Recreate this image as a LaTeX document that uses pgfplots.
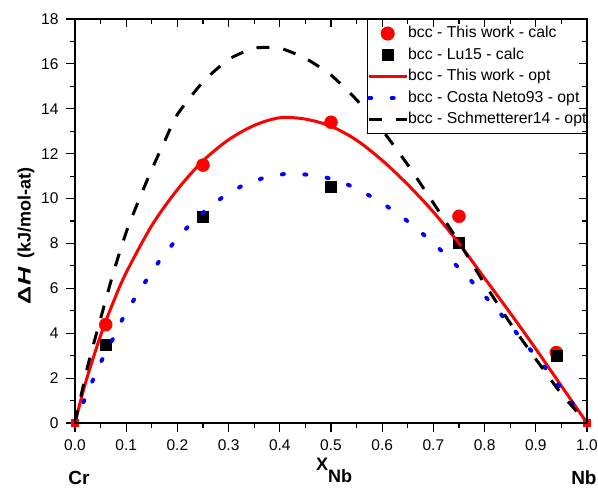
\documentclass[border=0pt]{standalone}
\usepackage{fontspec}
\setmainfont{Liberation Sans}
\usepackage{pgfplots}
\pgfplotsset{compat=1.18}
\begin{document}
\begin{tikzpicture}[font=\fontsize{15.5bp}{18bp}\selectfont]
\pgfplotsset{
  common/.style={
    scale only axis, width=512bp, height=404bp,
    xmin=0, xmax=1, ymin=0, ymax=18,
    xtick={0,0.1,0.2,0.3,0.4,0.5,0.6,0.7,0.8,0.9,1},
    ytick={0,2,4,6,8,10,12,14,16,18},
    minor x tick num=1, minor y tick num=1,
    axis line style={line width=1.6bp},
    every tick/.style={black, line width=1.2bp},
  }
}
\begin{axis}[common, name=ax,
  xtick pos=left, ytick pos=left, tick align=outside,
  major tick length=9bp, minor tick length=5bp,
  /pgf/number format/assume math mode=true,
  xticklabel style={/pgf/number format/fixed, /pgf/number format/fixed zerofill,
    /pgf/number format/precision=1, yshift=-4bp},
  yticklabel style={xshift=-4bp},
  ylabel={\fontsize{18bp}{20bp}\selectfont\bfseries\scalebox{1.4}[1]{Δ}\hspace{1bp}\scalebox{1.4}[1]{\itshape H}\hspace{9bp}(kJ/mol-at)},
  ylabel style={at={(rel axis cs:-0.0957,0.463)}, anchor=center},
  xlabel={\fontsize{18bp}{20bp}\selectfont\bfseries X\raisebox{-12bp}{Nb}},
  xlabel style={at={(rel axis cs:0.506,-0.118)}, anchor=base},
  legend style={at={(1,1)}, anchor=north east, draw=black, line width=1.1bp,
    inner xsep=0pt, inner ysep=6bp, row sep=5.5bp,
    font=\fontsize{15.8bp}{18bp}\selectfont,
    nodes={inner sep=0pt, text height=12bp, text depth=4bp},
    cells={anchor=west},
    /tikz/every even column/.append style={column sep=3bp}},
  legend image code/.code={\draw[mark repeat=2,mark phase=2,#1] plot coordinates {(0bp,0bp) (18.5bp,0bp) (37bp,0bp)};},
  clip mode=individual,
]
\addplot[only marks, mark=*, mark size=6.5bp, color=red, fill=red]
  coordinates {(0.06,4.38) (0.25,11.49) (0.5,13.40) (0.75,9.21) (0.94,3.14)};
\addlegendentry{bcc - This work - calc}
\addplot[only marks, mark=square*, mark size=5.5bp, color=black, fill=black]
  coordinates {(0.06,3.48) (0.25,9.21) (0.5,10.52) (0.75,8.03) (0.94,3.00)};
\addlegendentry{bcc - Lu15 - calc}
\addplot[red, line width=3bp, smooth, tension=0.5]
  coordinates {(0,0) (0.02,1.75) (0.05,3.9) (0.075,5.4) (0.1,6.7) (0.15,8.8)
   (0.2,10.4) (0.25,11.68) (0.3,12.62) (0.35,13.26) (0.4,13.6) (0.45,13.54)
   (0.5,13.22) (0.55,12.6) (0.6,11.7) (0.65,10.62) (0.7,9.4) (0.75,8.0)
   (0.8,6.45) (0.85,4.9) (0.9,3.3) (0.95,1.65) (1,0)};
\addlegendentry{bcc - This work - opt}
\addplot[blue, line width=4bp, line cap=round, dash pattern=on 2bp off 20.5bp]
  coordinates {(0,0) (0.0163,0.92) (0.034,1.87) (0.052,2.78) (0.073,3.70)
   (0.092,4.60) (0.115,5.49) (0.139,6.35) (0.163,7.16) (0.191,7.98) (0.219,8.71)
   (0.252,9.41) (0.288,10.06) (0.327,10.58) (0.368,10.92) (0.41,11.10)
   (0.452,11.07) (0.493,10.92) (0.535,10.60) (0.573,10.16) (0.609,9.66)
   (0.643,9.11) (0.677,8.47) (0.71,7.80) (0.74,7.13) (0.771,6.41) (0.801,5.64)
   (0.830,4.90) (0.859,4.11) (0.887,3.33) (0.915,2.56) (0.943,1.73) (0.97,0.92) (1,0)};
\addlegendentry{bcc - Costa Neto93 - opt}
\addplot[black, line width=3bp, dash pattern=on 13bp off 14bp, smooth, tension=0.35]
  coordinates {(0,0) (0.025,2.55) (0.05,4.65) (0.075,6.7) (0.1,8.5) (0.125,9.95)
   (0.15,11.3) (0.175,12.55) (0.2,13.75) (0.25,15.2) (0.3,16.2) (0.35,16.7)
   (0.4,16.7) (0.45,16.25) (0.5,15.5) (0.55,14.4) (0.6,13.05) (0.65,11.5)
   (0.7,9.8) (0.75,8.05) (0.8,6.2) (0.85,4.45) (0.9,2.85) (0.95,1.3) (1,0)};
\addlegendentry{bcc - Schmetterer14 - opt}
\addplot[forget plot, only marks, mark=square*, mark size=3.5bp, red]
  coordinates {(0,0) (1,0)};
\node[font=\fontsize{19bp}{21bp}\selectfont\bfseries, anchor=base] at (rel axis cs:0.0078,-0.151) {Cr};
\node[font=\fontsize{19bp}{21bp}\selectfont\bfseries, anchor=base] at (rel axis cs:0.994,-0.151) {Nb};
\end{axis}
\begin{axis}[common,
  xtick pos=right, ytick pos=right, tick align=inside,
  major tick length=8bp, minor tick length=5bp,
  xticklabels={}, yticklabels={},
]
\end{axis}
\pgfresetboundingbox
\path ([xshift=-75bp,yshift=-66bp]ax.south west) rectangle ([xshift=11bp,yshift=19bp]ax.north east);
\end{tikzpicture}
\end{document}
